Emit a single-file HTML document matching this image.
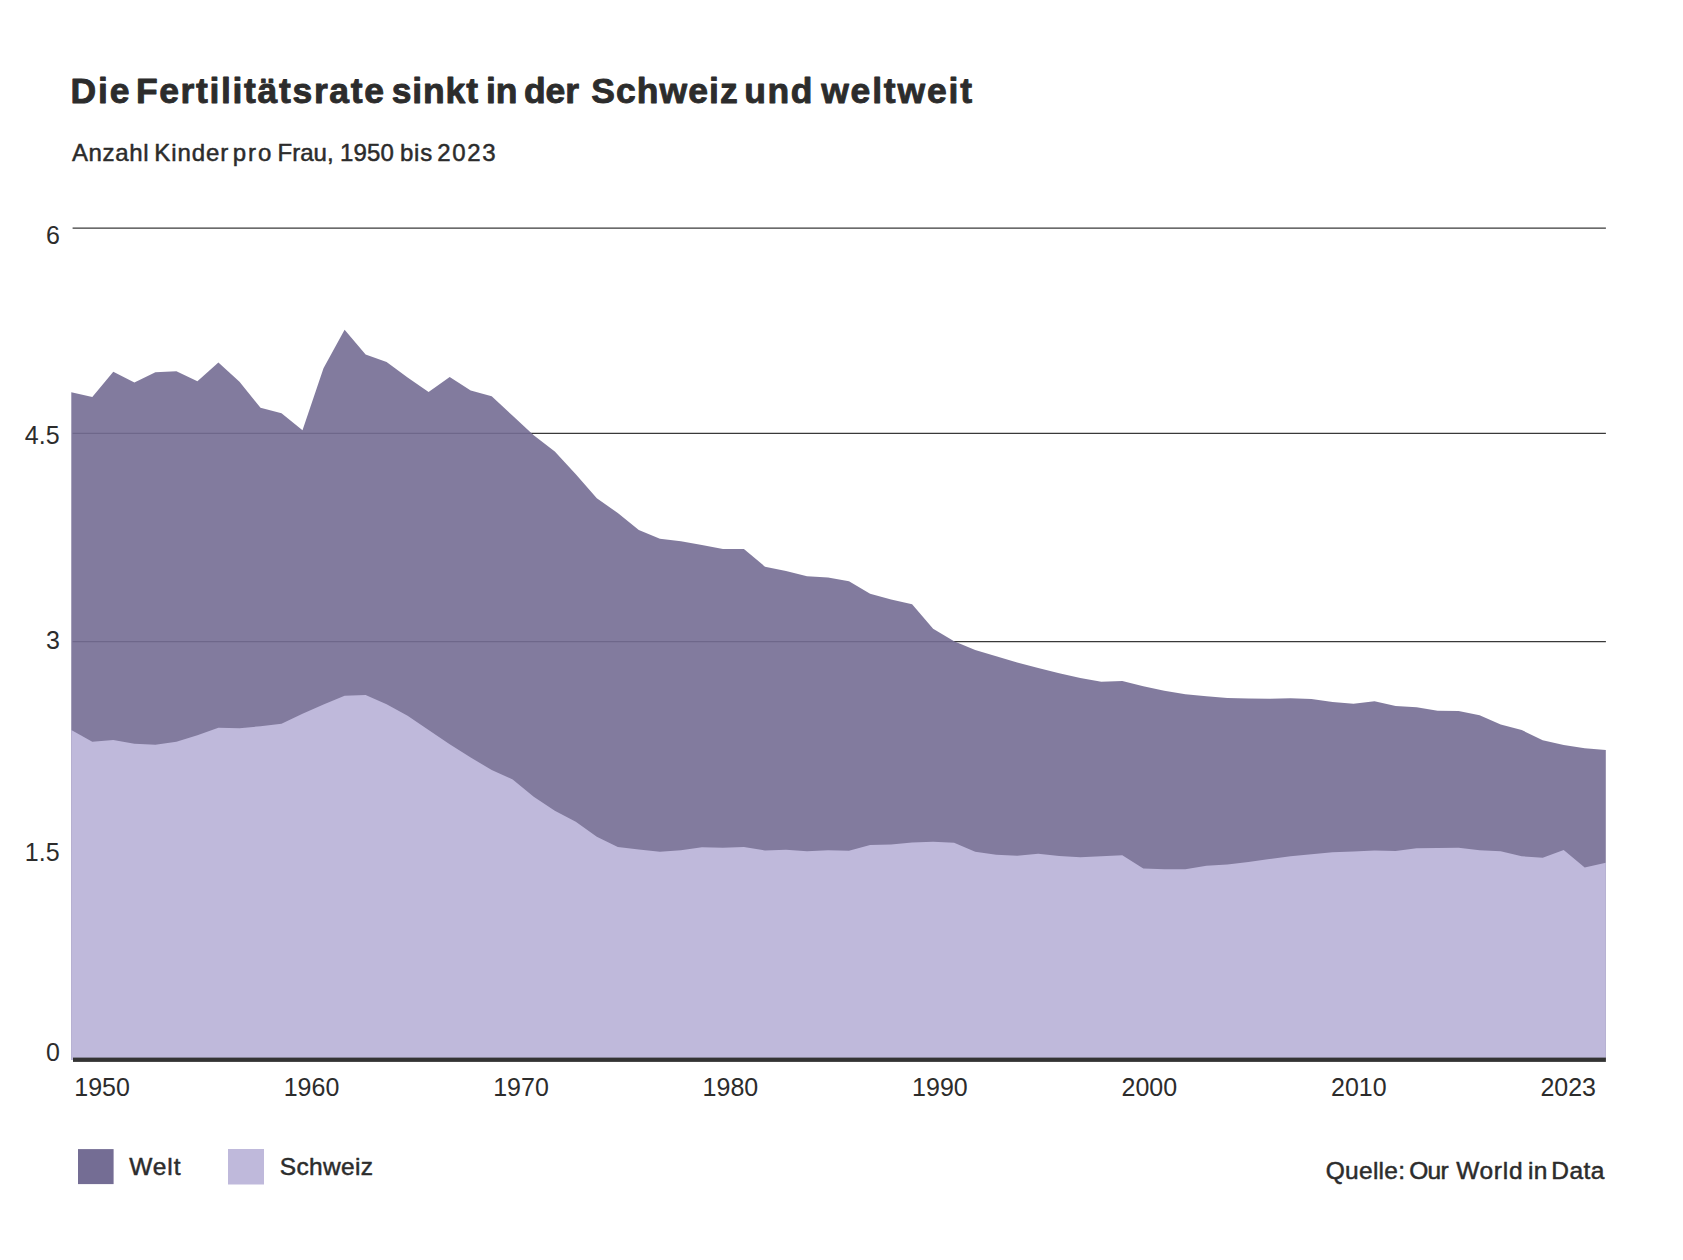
<!DOCTYPE html>
<html lang="de">
<head>
<meta charset="utf-8">
<title>Die Fertilitätsrate sinkt in der Schweiz und weltweit</title>
<style>
html,body{margin:0;padding:0;background:#fff;}
body{width:1683px;height:1260px;overflow:hidden;font-family:"Liberation Sans",sans-serif;}
svg{display:block;position:absolute;left:0;top:0;}
text{font-family:"Liberation Sans",sans-serif;fill:#2c2c2c;stroke:#2c2c2c;stroke-width:0;stroke-linejoin:round;}
.title{font-weight:700;font-size:37px;letter-spacing:0px;}
.sub{font-size:24px;letter-spacing:0px;}
.ax{font-size:25px;stroke-width:0.65px;}
.leg{font-size:25px;}
.src{font-size:25px;letter-spacing:0px;}
</style>
</head>
<body>
<svg width="1683" height="1260" viewBox="0 0 1683 1260">
<rect width="1683" height="1260" fill="#ffffff"/>
<text id="title" class="title" y="103.0" style="font-size:35.5px;stroke-width:0.9px"><tspan x="70.58" style="letter-spacing:1.822px">Die</tspan> <tspan x="135.88" style="letter-spacing:1.656px">Fertilitätsrate</tspan> <tspan x="391.7" style="letter-spacing:0.856px">sinkt</tspan> <tspan x="486.07" style="letter-spacing:-0.068px">in</tspan> <tspan x="523.99" style="letter-spacing:-0.075px">der</tspan> <tspan x="591.13" style="letter-spacing:1.072px">Schweiz</tspan> <tspan x="744.15" style="letter-spacing:1.594px">und</tspan> <tspan x="821.15" style="letter-spacing:1.821px">weltweit</tspan></text>
<text id="sub" class="sub" y="160.7" style="font-size:24px;stroke-width:0.5px"><tspan x="71.9" style="letter-spacing:0.674px">Anzahl</tspan> <tspan x="154.28" style="letter-spacing:0.918px">Kinder</tspan> <tspan x="232.8" style="letter-spacing:1.884px">pro</tspan> <tspan x="277.48" style="letter-spacing:0.027px">Frau,</tspan> <tspan x="339.92" style="letter-spacing:0.192px">1950</tspan> <tspan x="399.9" style="letter-spacing:0.867px">bis</tspan> <tspan x="437.24" style="letter-spacing:1.624px">2023</tspan></text>
<g stroke="#3a3a3a" stroke-width="1.1">
<line x1="72.6" y1="228.15" x2="1605.9" y2="228.15"/>
<line x1="72.6" y1="433.4" x2="1605.9" y2="433.4"/>
<line x1="72.6" y1="641.6" x2="1605.9" y2="641.6"/>
</g>
<polygon id="world" fill="#746d94" fill-opacity="0.9" points="71.2,1060 71.3,392.2 92.3,397.0 113.3,371.8 134.4,382.5 155.4,372.2 176.4,371.3 197.4,381.3 218.4,362.5 239.5,381.7 260.5,407.8 281.5,413.3 302.5,430.3 323.5,368.3 344.6,329.7 365.6,354.6 386.6,362.0 407.6,377.5 428.6,392.0 449.7,377.0 470.7,390.5 491.7,396.2 512.7,415.8 533.7,435.3 554.8,451.5 575.8,474.2 596.8,498.3 617.8,513.0 638.8,530.0 659.9,538.8 680.9,541.2 701.9,545.0 722.9,549.0 743.9,549.0 765.0,566.7 786.0,571.0 807.0,576.2 828.0,577.5 849.0,581.2 870.1,593.7 891.1,599.5 912.1,604.3 933.1,628.7 954.1,641.3 975.2,650.0 996.2,656.3 1017.2,662.5 1038.2,668.0 1059.2,673.3 1080.3,678.0 1101.3,681.7 1122.3,681.0 1143.3,686.3 1164.3,690.8 1185.4,694.3 1206.4,696.2 1227.4,698.0 1248.4,698.5 1269.4,698.7 1290.5,698.3 1311.5,699.0 1332.5,702.0 1353.5,703.7 1374.5,701.2 1395.6,706.0 1416.6,707.2 1437.6,710.8 1458.6,711.0 1479.6,715.3 1500.7,724.5 1521.7,730.0 1542.7,740.3 1563.7,745.0 1584.7,748.3 1605.8,750.0 1605.8,1060"/>
<polygon id="swiss" fill="#bfb9db" points="71.2,1060 71.3,730.0 92.3,741.7 113.3,740.0 134.4,743.8 155.4,744.7 176.4,741.7 197.4,735.3 218.4,727.8 239.5,728.3 260.5,726.2 281.5,723.7 302.5,713.8 323.5,704.6 344.6,695.8 365.6,695.0 386.6,704.2 407.6,715.8 428.6,730.0 449.7,744.2 470.7,757.5 491.7,770.0 512.7,779.5 533.7,796.7 554.8,810.8 575.8,821.7 596.8,836.7 617.8,847.0 638.8,849.5 659.9,851.8 680.9,850.3 701.9,847.3 722.9,847.7 743.9,847.0 765.0,850.5 786.0,849.8 807.0,851.2 828.0,850.2 849.0,850.8 870.1,845.0 891.1,844.5 912.1,842.5 933.1,841.8 954.1,842.8 975.2,851.7 996.2,854.7 1017.2,855.8 1038.2,853.8 1059.2,856.0 1080.3,857.2 1101.3,856.2 1122.3,855.3 1143.3,868.5 1164.3,869.2 1185.4,869.3 1206.4,865.8 1227.4,864.5 1248.4,862.0 1269.4,859.0 1290.5,856.3 1311.5,854.2 1332.5,852.3 1353.5,851.5 1374.5,850.5 1395.6,851.0 1416.6,848.3 1437.6,848.0 1458.6,847.7 1479.6,850.3 1500.7,851.2 1521.7,856.3 1542.7,857.8 1563.7,850.0 1584.7,867.5 1605.8,862.8 1605.8,1060"/>
<rect x="73" y="1057.6" width="1532.9" height="4.3" fill="#333333"/>
<g class="ax" text-anchor="end">
<text x="59.8" y="244">6</text>
<text x="59.6" y="444">4.5</text>
<text x="59.8" y="648.8">3</text>
<text x="59.6" y="861">1.5</text>
<text x="59.8" y="1060.8">0</text>
</g>
<g class="ax" text-anchor="middle">
<text x="102.1" y="1096.3">1950</text>
<text x="311.5" y="1096.3">1960</text>
<text x="521.0" y="1096.3">1970</text>
<text x="730.4" y="1096.3">1980</text>
<text x="939.9" y="1096.3">1990</text>
<text x="1149.3" y="1096.3">2000</text>
<text x="1358.8" y="1096.3">2010</text>
<text x="1568.2" y="1096.3">2023</text>
</g>
<rect x="78" y="1149.1" width="35.6" height="35" fill="#746d94"/>
<text id="leg1" class="leg" y="1174.6" style="font-size:24.5px;stroke-width:0.5px"><tspan x="129.24" style="letter-spacing:0.91px">Welt</tspan></text>
<rect x="228" y="1149" width="36" height="35.5" fill="#bfb9db"/>
<text id="leg2" class="leg" y="1174.6" style="font-size:24.5px;stroke-width:0.5px"><tspan x="279.74" style="letter-spacing:0.351px">Schweiz</tspan></text>
<text id="src" class="src" y="1178.6" style="font-size:24.5px;stroke-width:0.5px"><tspan x="1325.79" style="letter-spacing:0.262px">Quelle:</tspan> <tspan x="1409.19" style="letter-spacing:-0.687px">Our</tspan> <tspan x="1456.14" style="letter-spacing:0.713px">World</tspan> <tspan x="1527.91" style="letter-spacing:0.361px">in</tspan> <tspan x="1551.24" style="letter-spacing:0.453px">Data</tspan></text>
</svg>
</body>
</html>
